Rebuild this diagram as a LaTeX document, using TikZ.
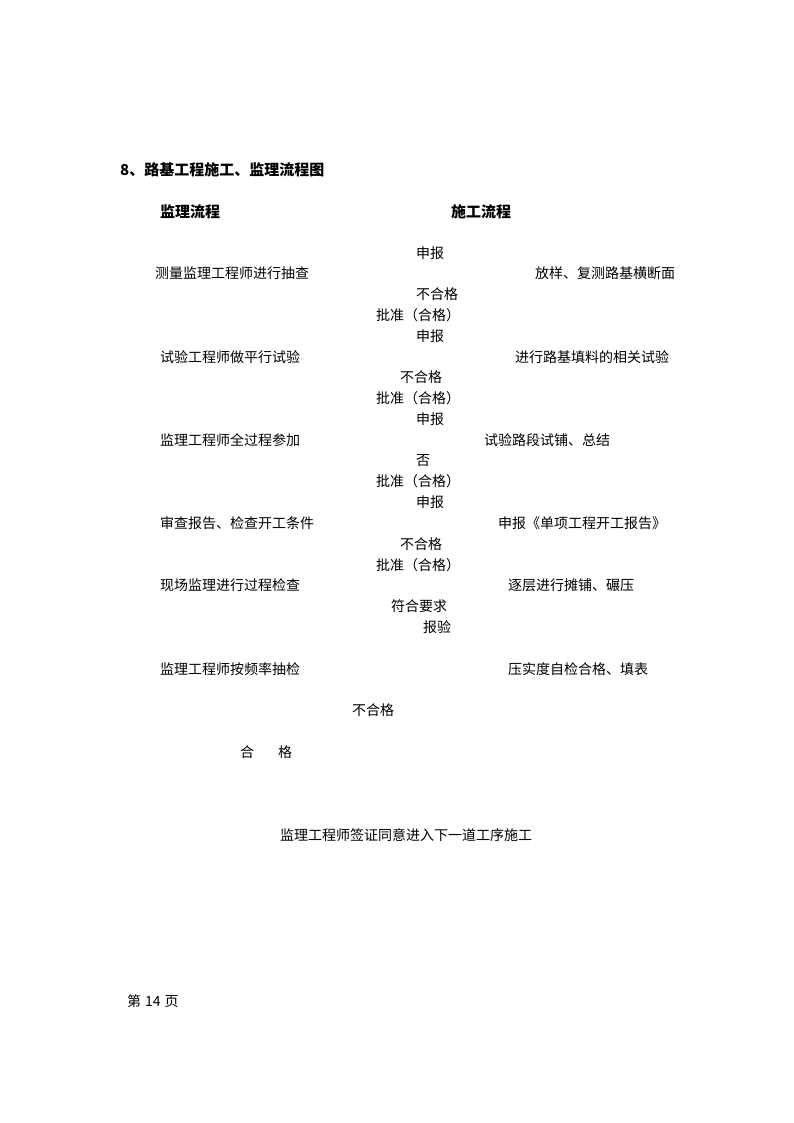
\documentclass[tikz,border=0pt]{standalone}
\usepackage{fontspec}
\setmainfont{Noto Sans CJK SC}
\newfontfamily\cjk{Noto Sans CJK SC}
\begin{document}
\begin{tikzpicture}[x=1pt,y=-1pt,
  txt/.style={anchor=west,inner sep=0pt,font=\cjk\fontsize{14}{16}\selectfont},
  hd/.style={anchor=west,inner sep=0pt,font=\cjk\bfseries\fontsize{15}{17}\selectfont}]
\useasboundingbox[fill=white] (0,0) rectangle (794,1123);
\node[hd] (title) at (120,170) {8、路基工程施工、监理流程图};
\node[hd] (hL) at (160,212) {监理流程};
\node[hd] (hR) at (451,212) {施工流程};
% row 1
\node[txt] (s1) at (416,253) {申报};
\node[txt] (L1) at (155,273) {测量监理工程师进行抽查};
\node[txt] (R1) at (535,273) {放样、复测路基横断面};
\node[txt] (n1) at (416,294) {不合格};
\node[txt] (a1) at (376,315) {批准（合格）};
% row 2
\node[txt] (s2) at (416,336) {申报};
\node[txt] (L2) at (160,357) {试验工程师做平行试验};
\node[txt] (R2) at (515,357) {进行路基填料的相关试验};
\node[txt] (n2) at (400,377) {不合格};
\node[txt] (a2) at (376,398) {批准（合格）};
% row 3
\node[txt] (s3) at (416,419) {申报};
\node[txt] (L3) at (160,440) {监理工程师全过程参加};
\node[txt] (R3) at (484,440) {试验路段试铺、总结};
\node[txt] (n3) at (416,461) {否};
\node[txt] (a3) at (376,481) {批准（合格）};
% row 4
\node[txt] (s4) at (416,502) {申报};
\node[txt] (L4) at (160,523) {审查报告、检查开工条件};
\node[txt] (R4) at (498,523) {申报《单项工程开工报告》};
\node[txt] (n4) at (400,544) {不合格};
\node[txt] (a4) at (376,565) {批准（合格）};
% row 5
\node[txt] (L5) at (160,585) {现场监理进行过程检查};
\node[txt] (R5) at (508,585) {逐层进行摊铺、碾压};
\node[txt] (ok5) at (391,606) {符合要求};
\node[txt] (bj) at (423,627) {报验};
% row 6
\node[txt] (L6) at (160,669) {监理工程师按频率抽检};
\node[txt] (R6) at (508,669) {压实度自检合格、填表};
\node[txt] (n6) at (352,710) {不合格};
\node[txt] (he) at (240,752) {合};
\node[txt] (ge) at (278,752) {格};
\node[txt] (end) at (280,835) {监理工程师签证同意进入下一道工序施工};
\node[txt] (page) at (127,1001) {第\hspace{4pt}14\hspace{4pt}页};
\end{tikzpicture}
\end{document}
